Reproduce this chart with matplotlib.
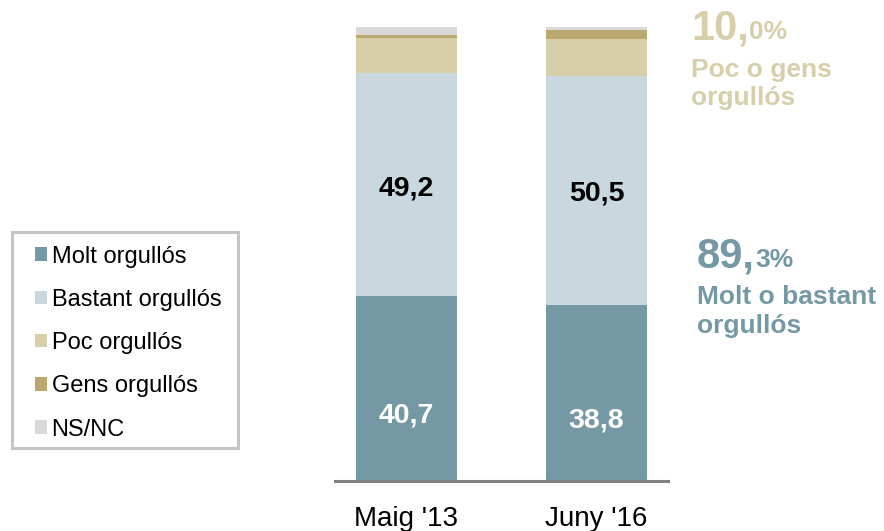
import matplotlib.pyplot as plt
from matplotlib.patches import Patch, Rectangle

plt.rcParams['font.family'] = ['Liberation Sans', 'DejaVu Sans']

# dades
periodes = ["Maig '13", "Juny '16"]
categories = ['Molt orgullós', 'Bastant orgullós', 'Poc orgullós', 'Gens orgullós', 'NS/NC']
molt = [40.7, 38.8]
bastant = [49.2, 50.5]
poc = [7.7, 8.0]
gens = [0.7, 2.0]
nsnc = [1.7, 0.7]
colors = ['#7598A5', '#C9D8DE', '#D6CFAA', '#B9A96F', '#D9D9D9']

W, H = 884, 531
fig = plt.figure(figsize=(W / 100, H / 100), dpi=100)
ax = fig.add_axes([335 / W, 1 - 481 / H, 333 / W, 454 / H])

x = [0, 1]
bottom = [0, 0]
for vals, col in zip([molt, bastant, poc, gens, nsnc], colors):
    ax.bar(x, vals, width=0.53, bottom=bottom, color=col, linewidth=0)
    bottom = [b + v for b, v in zip(bottom, vals)]

# etiquetes dins les barres
for i in x:
    ax.text(i, molt[i] / 2 - 6, f'{molt[i]:.1f}'.replace('.', ','), ha='center', va='center',
            color='white', fontsize=20.5, fontweight='bold')
    ax.text(i, molt[i] + bastant[i] / 2 - 0.8, f'{bastant[i]:.1f}'.replace('.', ','), ha='center',
            va='center', color='black', fontsize=20.5, fontweight='bold')

ax.set_xlim(-0.376, 1.376)
ax.set_ylim(0, 100)
ax.set_xticks(x)
ax.set_xticklabels(periodes, fontsize=20)
ax.tick_params(axis='x', length=0, pad=18)
ax.set_yticks([])
for s in ['top', 'right', 'left']:
    ax.spines[s].set_visible(False)
ax.spines['bottom'].set_color('#808080')
ax.spines['bottom'].set_linewidth(2.2)

# llegenda (marc dibuixat a part)
fig.patches.append(Rectangle((12 / W, 1 - 448 / H), 226 / W, 216 / H, transform=fig.transFigure,
                             fill=False, edgecolor='#C4C4C4', linewidth=2.2))
handles = [Patch(facecolor=c, edgecolor='none') for c in colors]
leg = fig.legend(handles, categories, loc='center left', bbox_to_anchor=(35 / W, 1 - 343 / H),
                 fontsize=17, frameon=False, handlelength=0.5, handleheight=0.5,
                 handletextpad=0.2, labelspacing=0.9, borderpad=0, borderaxespad=0)


def px(xp, yp):
    return xp / W, 1 - yp / H


# anotacions a la dreta
tot_poc = poc[1] + gens[1]
tot_molt = molt[1] + bastant[1]
c1 = '#D6CFAA'
c2 = '#7598A5'
a, b = f'{tot_poc:.1f}'.replace('.', ',').split(',')
fig.text(*px(691, 39), a + ',', fontsize=30, fontweight='bold', color=c1, va='baseline')
fig.text(*px(749, 39), b + '%', fontsize=19, fontweight='bold', color=c1, va='baseline')
fig.text(*px(691, 77), 'Poc o gens', fontsize=19, fontweight='bold', color=c1, va='baseline')
fig.text(*px(691, 105), 'orgullós', fontsize=19, fontweight='bold', color=c1, va='baseline')

a, b = f'{tot_molt:.1f}'.replace('.', ',').split(',')
fig.text(*px(697, 267), a + ',', fontsize=30, fontweight='bold', color=c2, va='baseline')
fig.text(*px(755, 267), b + '%', fontsize=19, fontweight='bold', color=c2, va='baseline')
fig.text(*px(697, 304), 'Molt o bastant', fontsize=19, fontweight='bold', color=c2, va='baseline')
fig.text(*px(697, 333), 'orgullós', fontsize=19, fontweight='bold', color=c2, va='baseline')

fig.savefig('out.png', dpi=100)
